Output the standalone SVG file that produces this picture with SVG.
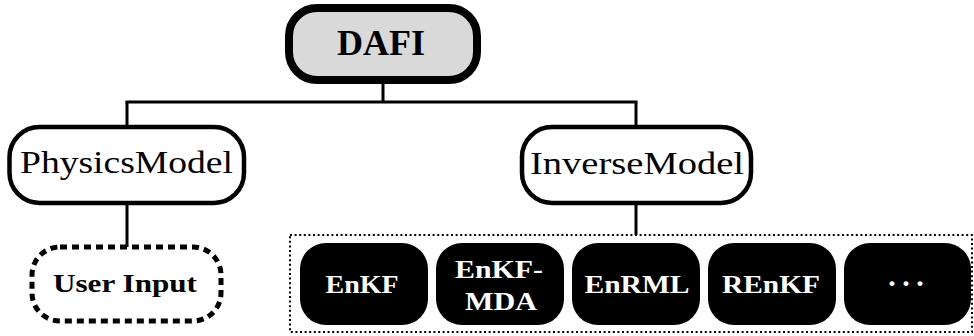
<svg xmlns="http://www.w3.org/2000/svg" width="974" height="336" viewBox="0 0 974 336">
  <style>
    .conn { stroke: #000; stroke-width: 3; fill: none; }
    .box { fill: #fff; stroke: #000; stroke-width: 4.5; }
    .pill { fill: #000; }
    .t { font-family: "Liberation Serif", "DejaVu Serif", serif; text-anchor: middle; fill: #000; }
    .tb { font-family: "Liberation Serif", "DejaVu Serif", serif; text-anchor: middle; font-weight: bold; }
    .w { fill: #fff; }
  </style>
  <rect width="974" height="336" fill="#fff"/>
  <g id="connectors">
    <line class="conn" x1="383" y1="80" x2="383" y2="102"/>
    <line class="conn" x1="125.5" y1="102" x2="637.5" y2="102"/>
    <line class="conn" x1="127" y1="102" x2="127" y2="127"/>
    <line class="conn" x1="636" y1="102" x2="636" y2="127"/>
    <line class="conn" x1="127" y1="203" x2="127" y2="247"/>
    <line class="conn" x1="636" y1="203" x2="636" y2="235"/>
  </g>
  <g id="dafi">
    <rect x="289" y="8" width="188" height="72" rx="28" ry="28" fill="#d9d9d9" stroke="#000" stroke-width="8"/>
    <text class="tb" x="381" y="55" font-size="35" textLength="88" lengthAdjust="spacingAndGlyphs">DAFI</text>
  </g>
  <g id="physicsmodel">
    <rect class="box" x="9.5" y="127" width="234.5" height="76" rx="30" ry="30"/>
    <text class="t" x="126.5" y="173" font-size="31" textLength="213" lengthAdjust="spacingAndGlyphs">PhysicsModel</text>
  </g>
  <g id="inversemodel">
    <rect class="box" x="522" y="127" width="229" height="76" rx="30" ry="30"/>
    <text class="t" x="637" y="174" font-size="31" textLength="214" lengthAdjust="spacingAndGlyphs">InverseModel</text>
  </g>
  <g id="userinput">
    <rect x="32" y="247" width="189" height="74" rx="28" ry="28" fill="#fff" stroke="#000" stroke-width="5" stroke-dasharray="7 5"/>
    <text class="tb" x="125" y="292" font-size="25" textLength="144" lengthAdjust="spacingAndGlyphs">User Input</text>
  </g>
  <g id="methods">
    <rect x="290" y="235" width="682" height="97" fill="none" stroke="#000" stroke-width="2" stroke-dasharray="2 2.6"/>
  </g>
  <g id="enkf">
    <rect class="pill" x="300" y="243" width="128" height="82" rx="26" ry="26"/>
    <text class="tb w" x="362" y="293" font-size="26" textLength="73" lengthAdjust="spacingAndGlyphs">EnKF</text>
  </g>
  <g id="enkf-mda">
    <rect class="pill" x="436" y="243" width="128" height="82" rx="26" ry="26"/>
    <text class="tb w" x="499" y="278" font-size="26" textLength="88" lengthAdjust="spacingAndGlyphs">EnKF-</text>
    <text class="tb w" x="501" y="310" font-size="26" textLength="72" lengthAdjust="spacingAndGlyphs">MDA</text>
  </g>
  <g id="enrml">
    <rect class="pill" x="572" y="243" width="128" height="82" rx="26" ry="26"/>
    <text class="tb w" x="637" y="293" font-size="26" textLength="105" lengthAdjust="spacingAndGlyphs">EnRML</text>
  </g>
  <g id="renkf">
    <rect class="pill" x="708" y="243" width="128" height="82" rx="26" ry="26"/>
    <text class="tb w" x="771" y="293" font-size="26" textLength="98" lengthAdjust="spacingAndGlyphs">REnKF</text>
  </g>
  <g id="more">
    <rect class="pill" x="844" y="243" width="127" height="82" rx="26" ry="26"/>
    <text class="tb w" x="906" y="293" font-size="30" textLength="38" lengthAdjust="spacing">· · ·</text>
  </g>
</svg>
